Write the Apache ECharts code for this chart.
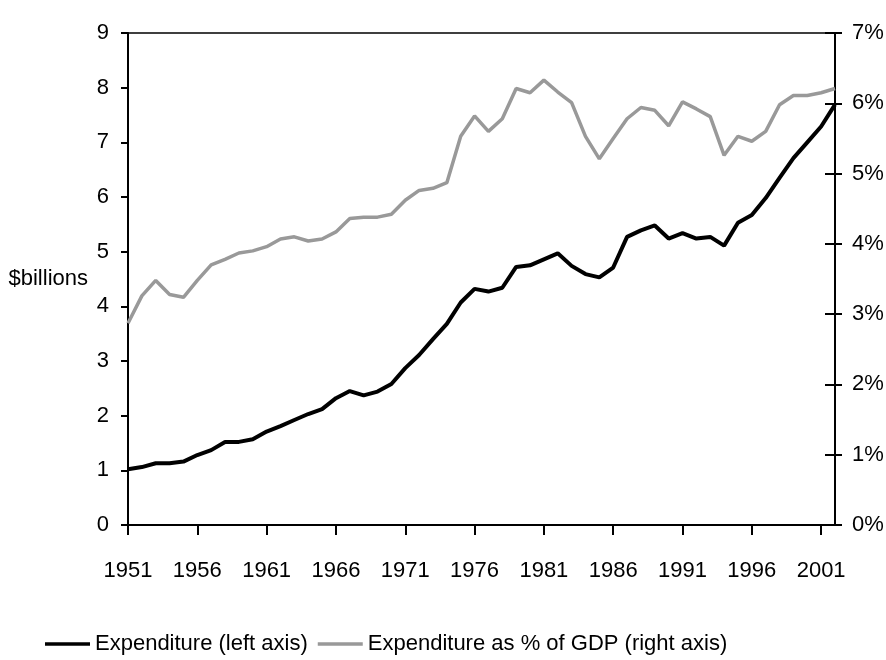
<!DOCTYPE html>
<html>
<head>
<meta charset="utf-8">
<script src="https://cdn.jsdelivr.net/npm/echarts@6/dist/echarts.min.js"></script>
<style>
  html, body { margin: 0; padding: 0; background: #fff; }
  #chart { width: 886px; height: 660px; }
</style>
</head>
<body>
<div id="chart"></div>
<script>
var years = []
for (var y = 1951; y <= 2002; y++) years.push(String(y))

// $ billions, left axis
var expenditure = [
  1.02, 1.06, 1.13, 1.13, 1.16, 1.28, 1.37, 1.52, 1.52, 1.57,
  1.71, 1.81, 1.92, 2.03, 2.12, 2.32, 2.45, 2.37, 2.44, 2.58,
  2.87, 3.11, 3.40, 3.68, 4.07, 4.32, 4.27, 4.34, 4.72, 4.75,
  4.86, 4.97, 4.74, 4.59, 4.53, 4.71, 5.27, 5.39, 5.48, 5.24,
  5.34, 5.24, 5.27, 5.11, 5.53, 5.67, 5.98, 6.35, 6.71, 7.00,
  7.29, 7.69
]

// % of GDP, right axis
var pctGdp = [
  2.87, 3.26, 3.48, 3.28, 3.24, 3.48, 3.70, 3.78, 3.87, 3.90,
  3.96, 4.07, 4.10, 4.04, 4.07, 4.17, 4.36, 4.38, 4.38, 4.42,
  4.62, 4.76, 4.79, 4.87, 5.53, 5.82, 5.60, 5.78, 6.21, 6.15,
  6.33, 6.16, 6.01, 5.53, 5.21, 5.50, 5.78, 5.94, 5.90, 5.68,
  6.02, 5.92, 5.81, 5.26, 5.53, 5.46, 5.60, 5.98, 6.11, 6.11,
  6.15, 6.21
]

var font = '"Liberation Sans", Arial, sans-serif'
var axisColor = '#000'

var myChart = echarts.init(document.getElementById('chart'))
myChart.setOption({
  backgroundColor: '#fff',
  animation: false,
  textStyle: { fontFamily: font, color: '#000' },
  grid: {
    left: 128,
    right: 51,
    top: 33,
    bottom: 135,
    containLabel: false,
    outerBoundsMode: 'none',
    show: true,
    borderColor: axisColor,
    borderWidth: 1.5
  },
  legend: {
    left: 40,
    top: 628,
    icon: 'rect',
    itemWidth: 45,
    itemHeight: 3.5,
    itemGap: 10,
    textStyle: { fontFamily: font, fontSize: 22, color: '#000' },
    data: ['Expenditure (left axis)', 'Expenditure as % of GDP (right axis)']
  },
  xAxis: {
    type: 'category',
    data: years,
    boundaryGap: false,
    axisLine: { lineStyle: { color: axisColor, width: 2 } },
    axisTick: { interval: 4, length: 10, lineStyle: { color: axisColor, width: 2 } },
    axisLabel: { interval: 4, margin: 35, fontSize: 22, color: '#000', fontFamily: font },
    splitLine: { show: false }
  },
  yAxis: [
    {
      type: 'value',
      min: 0,
      max: 9,
      interval: 1,
      position: 'left',
      name: '$billions',
      nameLocation: 'middle',
      nameRotate: 0,
      nameGap: 40,
      nameMoveOverlap: false,
      nameTextStyle: { fontFamily: font, fontSize: 22, color: '#000', align: 'right' },
      axisLine: { show: true, lineStyle: { color: axisColor, width: 2 } },
      axisTick: { show: true, length: 7, lineStyle: { color: axisColor, width: 2 } },
      axisLabel: { margin: 19, fontSize: 22, color: '#000', fontFamily: font },
      splitLine: { show: false }
    },
    {
      type: 'value',
      min: 0,
      max: 7,
      interval: 1,
      position: 'right',
      axisLine: { show: true, lineStyle: { color: axisColor, width: 2 } },
      axisTick: { show: true, inside: true, length: 10, lineStyle: { color: axisColor, width: 2 } },
      axisLabel: { margin: 17, fontSize: 22, color: '#000', fontFamily: font, formatter: '{value}%' },
      splitLine: { show: false }
    },
    {
      // outer half of the crossing ticks on the right axis
      type: 'value',
      min: 0,
      max: 7,
      interval: 1,
      position: 'right',
      axisLine: { show: false },
      axisTick: { show: true, length: 7, lineStyle: { color: axisColor, width: 2 } },
      axisLabel: { show: false },
      splitLine: { show: false }
    }
  ],
  series: [
    {
      name: 'Expenditure (left axis)',
      type: 'line',
      yAxisIndex: 0,
      data: expenditure,
      symbol: 'none',
      lineStyle: { color: '#000', width: 4 },
      itemStyle: { color: '#000' }
    },
    {
      name: 'Expenditure as % of GDP (right axis)',
      type: 'line',
      yAxisIndex: 1,
      data: pctGdp,
      symbol: 'none',
      lineStyle: { color: '#999', width: 3.5 },
      itemStyle: { color: '#999' }
    }
  ]
})
window.addEventListener('resize', function () {
  myChart.resize()
})
</script>
</body>
</html>
